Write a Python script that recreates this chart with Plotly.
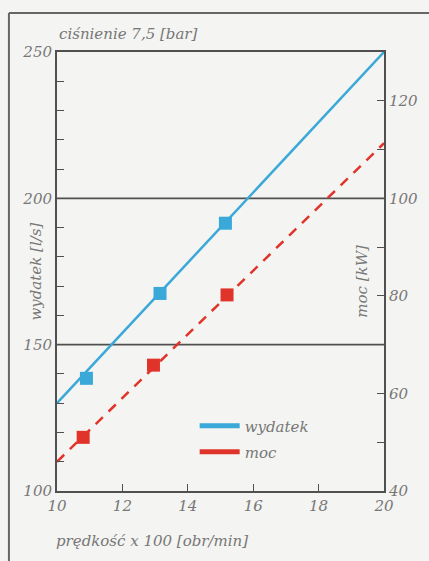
import plotly.graph_objects as go

# Data
speed_line = [10, 20]
wydatek_line = [130, 250]
moc_line = [46, 111.3]

wydatek_pts_x = [10.9, 13.15, 15.15]
wydatek_pts = [138.5, 167.5, 191.5]
moc_pts_x = [10.8, 12.95, 15.2]
moc_pts = [51, 65.8, 80.2]

x_ticks = [10, 12, 14, 16, 18, 20]
left_ticks = list(range(100, 251, 10))
left_labels = [str(v) if v % 50 == 0 else "" for v in left_ticks]
right_ticks = list(range(40, 131, 10))
right_labels = [str(v) if v % 20 == 0 else "" for v in right_ticks]

BLUE = "#3aa8d8"
RED = "#e0342a"
GRAY = "#777777"
AXIS = "#505050"
FONT = "DejaVu Serif"

fig = go.Figure()
fig.add_trace(go.Scatter(x=speed_line, y=wydatek_line, mode="lines", showlegend=False,
                         line=dict(color=BLUE, width=2.5)))
fig.add_trace(go.Scatter(x=speed_line, y=moc_line, mode="lines", showlegend=False, yaxis="y2",
                         line=dict(color=RED, width=2.5, dash="10px,8px")))
fig.add_trace(go.Scatter(x=wydatek_pts_x, y=wydatek_pts, mode="markers", showlegend=False,
                         marker=dict(symbol="square", size=13, color=BLUE)))
fig.add_trace(go.Scatter(x=moc_pts_x, y=moc_pts, mode="markers", showlegend=False, yaxis="y2",
                         marker=dict(symbol="square", size=13, color=RED)))
# legend entries (solid thick keys as in the reference)
fig.add_trace(go.Scatter(x=[None], y=[None], mode="lines", name="wydatek", legend="legend",
                         line=dict(color=BLUE, width=5)))
fig.add_trace(go.Scatter(x=[None], y=[None], mode="lines", name="moc", legend="legend2",
                         line=dict(color=RED, width=5)))

tickfont = dict(family=FONT, size=15, color=GRAY, style="italic")
legfont = dict(family=FONT, size=15, color=GRAY, style="italic")

fig.update_layout(
    width=429, height=561,
    margin=dict(l=57, r=45, t=52, b=70, autoexpand=False),
    paper_bgcolor="#f4f4f2", plot_bgcolor="#f4f4f2",
    xaxis=dict(range=[10, 20], tickvals=x_ticks, ticks="inside", ticklen=7, tickcolor=AXIS,
               showline=True, linecolor=AXIS, linewidth=2, mirror=True, showgrid=False,
               zeroline=False, tickfont=tickfont, automargin=False),
    yaxis=dict(range=[100, 250], tickvals=left_ticks, ticktext=left_labels, ticks="inside",
               ticklen=7, tickcolor=AXIS, showline=True, linecolor=AXIS, linewidth=2,
               showgrid=False, zeroline=False, tickfont=tickfont, automargin=False),
    yaxis2=dict(range=[40, 130], tickvals=right_ticks, ticktext=right_labels, ticks="inside",
                ticklen=7, tickcolor=AXIS, overlaying="y", side="right", showline=True,
                linecolor=AXIS, linewidth=2, showgrid=False, zeroline=False, tickfont=tickfont,
                automargin=False),
    legend=dict(x=0.421, y=0.1855, xanchor="left", yanchor="top", bgcolor="rgba(0,0,0,0)",
                font=legfont, itemwidth=40),
    legend2=dict(x=0.421, y=0.1263, xanchor="left", yanchor="top", bgcolor="rgba(0,0,0,0)",
                 font=legfont, itemwidth=40),
    showlegend=True,
)

# horizontal reference lines at 150 and 200
for yv in [150, 200]:
    fig.add_shape(type="line", xref="paper", x0=0, x1=1, yref="y", y0=yv, y1=yv,
                  line=dict(color=AXIS, width=1.8), layer="below")

# outer frame (top and left edges)
fig.add_shape(type="line", xref="paper", yref="paper", x0=-0.147, x1=1.2, y0=1.089, y1=1.089,
              line=dict(color="#666666", width=2))
fig.add_shape(type="line", xref="paper", yref="paper", x0=-0.147, x1=-0.147, y0=1.089, y1=-0.2,
              line=dict(color="#666666", width=2))

ann_font = dict(family=FONT, size=15, color=GRAY, style="italic")
fig.add_annotation(text="ciśnienie 7,5 [bar]", xref="paper", yref="paper", x=0.0, y=1.04,
                   xanchor="left", yanchor="middle", showarrow=False, font=ann_font)
fig.add_annotation(text="prędkość x 100 [obr/min]", xref="paper", yref="paper", x=-0.01, y=-0.113,
                   xanchor="left", yanchor="middle", showarrow=False, font=ann_font)
fig.add_annotation(text="wydatek [l/s]", xref="paper", yref="paper", x=-0.067, y=0.5,
                   xanchor="center", yanchor="middle", textangle=-90, showarrow=False, font=ann_font)
fig.add_annotation(text="moc [kW]", xref="paper", yref="paper", x=0.933, y=0.477,
                   xanchor="center", yanchor="middle", textangle=-90, showarrow=False, font=ann_font)

fig.write_html("out.html", config={"displayModeBar": False},
               post_script="document.body.style.margin='0';document.body.style.overflow='hidden';")
